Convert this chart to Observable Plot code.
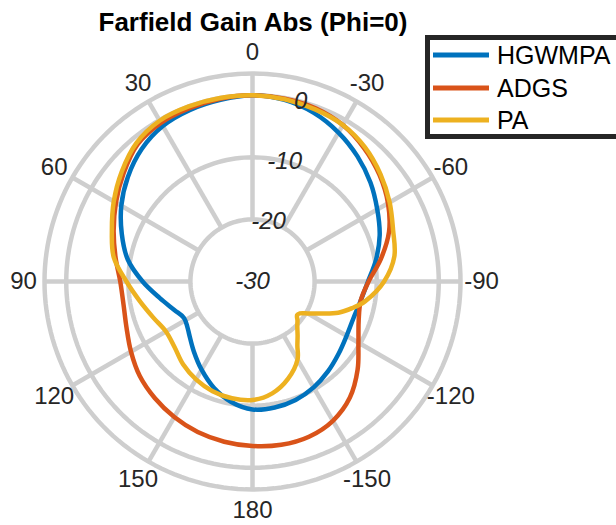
<!DOCTYPE html>
<html><head><meta charset="utf-8">
<script src="https://cdn.jsdelivr.net/npm/d3@7"></script>
<script src="https://cdn.jsdelivr.net/npm/@observablehq/plot@0.6"></script>
<style>
body{margin:0;background:#fff;font-family:"Liberation Sans",Arial,sans-serif;}
#wrap{position:relative;width:616px;height:525px;overflow:hidden;}
#chart{position:absolute;left:0;top:0;}
#title{position:absolute;left:0;width:506px;top:7px;line-height:30px;text-align:center;font-weight:bold;font-size:26px;color:#000;}
#legend{position:absolute;left:425px;top:35px;width:210px;height:104px;border:5px solid #262626;box-sizing:border-box;background:#fff;}
.row{position:absolute;left:3px;height:30px;line-height:30px;font-size:25px;color:#000;white-space:nowrap;}
.row svg{position:absolute;left:0;top:12px;}
.row span{position:absolute;left:64px;top:0;}
</style></head>
<body><div id="wrap"><div id="chart"></div><div id="title">Farfield Gain Abs (Phi=0)</div><div id="legend"></div></div>
<script>
// radial axis
const rMin = -30, rMax = 3.5;
const rGridTicks = [-20, -10, 0];
const rTickLabels = [-30, -20, -10, 0];
const rLabelAngle = -15;
const thetaTicks = [0, 30, 60, 90, 120, 150, 180, -150, -120, -90, -60, -30];
const thetaTickLabels = ["0", "30", "60", "90", "120", "150", "180", "-150", "-120", "-90", "-60", "-30"];

// series
const seriesNames = ["HGWMPA", "ADGS", "PA"];
const seriesColors = ["#0072BD", "#D95319", "#EDB120"];

const hgwmpaTheta = [0,10,20,30,40,50,60,70,80,90,100,110,118,125,130,140,150,160,170,180,-170,-160,-150,-140,-130,-120,-110,-100,-90,-80,-70,-60,-50,-40,-30,-20,-10];
const hgwmpaGain  = [0,-0.3,-0.6,-1.1,-2.2,-3.8,-5.6,-7.6,-9.6,-12.3,-14.8,-16.6,-17.5,-17.2,-16.7,-15.3,-13.6,-11.8,-10.3,-9.4,-9.4,-9.7,-10.3,-11.1,-11.9,-12.5,-12.7,-12.3,-11.4,-9.8,-8.2,-6.8,-5.2,-3.7,-2.3,-1.1,-0.3];

const adgsTheta = [0,10,20,30,40,50,60,70,80,90,100,110,120,130,140,150,160,170,180,-170,-160,-150,-140,-130,-120,-110,-100,-90,-80,-70,-60,-50,-40,-30,-20,-10];
const adgsGain  = [0,-0.1,-0.3,-0.5,-1.2,-2.9,-4.6,-6.2,-7.6,-8.7,-8.9,-8.4,-7.4,-6.3,-5.5,-4.8,-4.2,-3.8,-3.5,-3.3,-3.4,-4.1,-5.6,-7.9,-10.3,-11.8,-12.3,-11.3,-9.0,-6.6,-4.8,-3.3,-2.0,-0.9,-0.3,-0.1];

const paTheta = [0,10,20,30,40,50,60,70,80,90,100,110,120,130,140,150,160,170,180,-170,-160,-150,-145,-140,-135,-131,-127,-124,-120,-115,-110,-105,-100,-90,-80,-70,-60,-50,-40,-30,-20,-10];
const paGain  = [0,0,0,-0.1,-0.9,-2.5,-4.2,-5.9,-7.3,-9.7,-11.6,-13.0,-13.9,-13.6,-12.6,-11.8,-11.2,-10.9,-10.9,-11.7,-13.3,-15.5,-17.4,-18.7,-19.8,-20.4,-21.0,-20.8,-19.7,-17.8,-15.3,-13.4,-11.6,-8.8,-6.8,-5.9,-4.5,-3.1,-1.8,-0.9,-0.5,-0.2];

const seriesTheta = [hgwmpaTheta, adgsTheta, paTheta];
const seriesGain = [hgwmpaGain, adgsGain, paGain];

const rad = d => d * Math.PI / 180;
const px = (th, db) => -(db - rMin) * Math.sin(rad(th));
const py = (th, db) => (db - rMin) * Math.cos(rad(th));

// curve data
const curves = [];
seriesNames.forEach((name, i) => {
  seriesTheta[i].forEach((th, j) => curves.push({series: name, x: px(th, seriesGain[i][j]), y: py(th, seriesGain[i][j])}));
});

// grid rings
const ringLevels = [...rGridTicks, rMax];
const rings = [];
ringLevels.forEach(lv => {
  for (let a = 0; a <= 360; a += 2) rings.push({ring: lv, x: px(a, lv), y: py(a, lv)});
});
const spokes = thetaTicks.map(t => ({x1: px(t, rGridTicks[0]), y1: py(t, rGridTicks[0]), x2: px(t, rMax), y2: py(t, rMax)}));
const thetaLabelPos = thetaTicks.map((t, i) => ({label: thetaTickLabels[i], x: px(t, rMax + 3.38), y: py(t, rMax + 3.38)}));
const rLabelPos = rTickLabels.map(v => ({label: String(v), x: px(rLabelAngle, v), y: py(rLabelAngle, v)}));

const span = rMax - rMin;
const cx = 252, cy = 281, R = 208;

const chart = Plot.plot({
  width: 616,
  height: 525,
  margin: 0,
  style: {fontFamily: "'Liberation Sans', Arial, sans-serif", background: "transparent"},
  x: {domain: [-span, span], range: [cx - R, cx + R], axis: null},
  y: {domain: [-span, span], range: [cy + R, cy - R], axis: null},
  color: {domain: seriesNames, range: seriesColors},
  marks: [
    Plot.line(rings, {x: "x", y: "y", z: "ring", stroke: "#cecece", strokeWidth: 4.5}),
    Plot.link(spokes, {x1: "x1", y1: "y1", x2: "x2", y2: "y2", stroke: "#cecece", strokeWidth: 4.5}),
    Plot.line(curves, {x: "x", y: "y", z: "series", stroke: "series", strokeWidth: 4.5, curve: "catmull-rom-closed"}),
    Plot.text(thetaLabelPos, {x: "x", y: "y", text: "label", fontSize: 24, fill: "#262626"}),
    Plot.text(rLabelPos, {x: "x", y: "y", text: "label", fontSize: 24, fontStyle: "italic", fill: "#262626"})
  ]
});
document.getElementById("chart").appendChild(chart);

// legend
const leg = document.getElementById("legend");
const rowTops = [0, 33, 65];
seriesNames.forEach((n, i) => {
  const row = document.createElement("div");
  row.className = "row";
  row.style.top = rowTops[i] + "px";
  row.innerHTML = `<svg width="56" height="6"><line x1="0" x2="56" y1="3" y2="3" stroke="${seriesColors[i]}" stroke-width="5"/></svg><span>${n}</span>`;
  leg.appendChild(row);
});
</script>
</body></html>
